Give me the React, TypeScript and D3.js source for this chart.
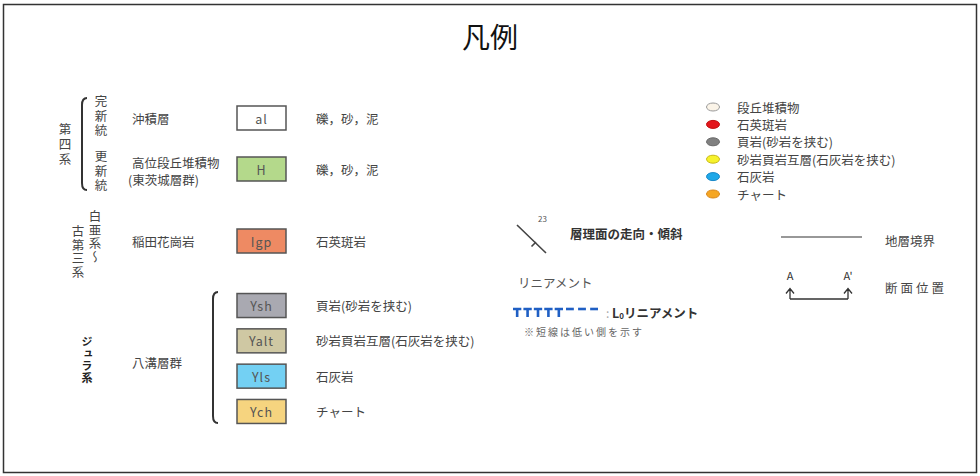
import * as d3 from "d3";

// font used for every label (Japanese text)
const FONT = '"Noto Sans CJK JP", "Noto Sans", sans-serif';

// geological units, top to bottom
const unitCodes = ["al", "H", "Igp", "Ysh", "Yalt", "Yls", "Ych"];
const unitRocks = [
  "礫，砂，泥",
  "礫，砂，泥",
  "石英斑岩",
  "頁岩(砂岩を挟む)",
  "砂岩頁岩互層(石灰岩を挟む)",
  "石灰岩",
  "チャート",
];
const unitColors = [
  "#ffffff",
  "#b4d98b",
  "#ee8a63",
  "#a9a9b1",
  "#cfc8a3",
  "#73d0f3",
  "#f6d47f",
];
const quaternaryCodes = ["al", "H"];
const jurassicCodes = ["Ysh", "Yalt", "Yls", "Ych"];

// map-symbol legend (ellipses on the right)
const dotLabels = [
  "段丘堆積物",
  "石英斑岩",
  "頁岩(砂岩を挟む)",
  "砂岩頁岩互層(石灰岩を挟む)",
  "石灰岩",
  "チャート",
];
const dotColors = ["#fbf4e8", "#e3161c", "#808080", "#f6f22c", "#1fa8e8", "#f5a623"];
const dotStrokes = ["#999999", "#c01010", "#6a6a6a", "#c8b81a", "#1a88c8", "#d8861a"];

const sectionLabels = ["A", "A'"];

export default function App() {
  const width = 980;
  const height = 476;

  // vertical placement of the unit rows
  const yQuat = d3.scalePoint<string>().domain(quaternaryCodes).range([118, 169]);
  const yJura = d3
    .scaleBand<string>()
    .domain(jurassicCodes)
    .range([293, 424])
    .paddingInner(0.29);
  const rowY = (code: string) => {
    if (quaternaryCodes.includes(code)) return yQuat(code)!;
    if (jurassicCodes.includes(code)) return yJura(code)! + yJura.bandwidth() / 2;
    return 241;
  };

  const boxX = 237;
  const boxW = 49;
  const boxH = 24;

  const yDot = d3.scalePoint<string>().domain(dotLabels).range([107, 194]);
  const xSection = d3.scalePoint<string>().domain(sectionLabels).range([790, 848]);

  // blue L0 lineament: five "T" ticks then three dashes
  const xTee = d3.scaleBand<number>().domain(d3.range(5)).range([513, 563]).paddingInner(0.2);
  const xDash = d3.scaleBand<number>().domain(d3.range(3)).range([566, 598]).paddingInner(0.35);

  const line = d3.line();

  const bracket = (x: number, y0: number, y1: number) =>
    `M${x + 5},${y0} Q${x},${y0} ${x},${y0 + 7} L${x},${y1 - 7} Q${x},${y1} ${x + 5},${y1}`;

  // vertical (tategaki) label, y0 is the top of the first glyph
  const vText = (
    label: string,
    x: number,
    y0: number,
    spacing: number,
    opts: { size?: number; weight?: number; fill?: string } = {},
  ) => (
    <text
      x={x}
      y={y0}
      style={{ writingMode: "vertical-rl" }}
      fontSize={opts.size ?? 12.5}
      fontWeight={opts.weight ?? 400}
      fill={opts.fill ?? "#444"}
      letterSpacing={spacing}
    >
      {label}
    </text>
  );

  return (
    <svg
      width={width}
      height={height}
      style={{ position: "absolute", left: 0, top: 0, background: "#fff" }}
      fontFamily={FONT}
    >
      <rect width={width} height={height} fill="#fff" />
      <rect x={3.5} y={4.5} width={973} height={468} fill="none" stroke="#333" strokeWidth={1.5} />

      <text x={490} y={36} textAnchor="middle" dominantBaseline="central" fontSize={28} fill="#111">
        凡例
      </text>

      {/* period labels on the left */}
      {vText("第四系", 65, 123, 2.5)}
      <path d={bracket(82, 98, 190)} fill="none" stroke="#333" strokeWidth={2} />
      {vText("完新統", 101, 95, 2)}
      {vText("更新統", 101, 150, 2)}
      {vText("白亜系〜", 95, 210, 1, { size: 12.5 })}
      {vText("古第三系", 78, 225, 1.2, { size: 12.5 })}
      {vText("ジュラ系", 87, 336, 1, { size: 11, weight: 700, fill: "#222" })}

      {/* formation names */}
      <g fontSize={12.5} fill="#444" dominantBaseline="central">
        <text x={132} y={rowY("al")}>沖積層</text>
        <text x={132} y={rowY("H") - 7}>高位段丘堆積物</text>
        <text x={128} y={rowY("H") + 10}>(東茨城層群)</text>
        <text x={132} y={rowY("Igp")}>稲田花崗岩</text>
        <text x={132} y={362}>八溝層群</text>
      </g>
      <path d={bracket(213, 292, 423)} fill="none" stroke="#333" strokeWidth={2} />

      {/* unit boxes and rock descriptions */}
      {unitCodes.map((code, i) => {
        const y = rowY(code);
        return (
          <g key={code}>
            <rect
              x={boxX}
              y={y - boxH / 2}
              width={boxW}
              height={boxH}
              fill={unitColors[i]}
              stroke="#555"
              strokeWidth={1.5}
            />
            <text
              x={boxX + boxW / 2}
              y={y}
              textAnchor="middle"
              dominantBaseline="central"
              fontSize={12.5}
              letterSpacing={1}
              fill="#555"
            >
              {code}
            </text>
            <text x={316} y={y} dominantBaseline="central" fontSize={12.5} fill="#444">
              {unitRocks[i]}
            </text>
          </g>
        );
      })}

      {/* strike and dip symbol */}
      <path
        d={
          line([
            [517, 225],
            [546, 253],
          ])! +
          line([
            [536, 242],
            [531.5, 246.5],
          ])!
        }
        stroke="#444"
        strokeWidth={1.6}
        fill="none"
      />
      <text x={538} y={218} fontSize={8} fill="#555" dominantBaseline="central">
        23
      </text>
      <text x={570} y={233} fontSize={12.5} fontWeight={700} fill="#333" dominantBaseline="central">
        層理面の走向・傾斜
      </text>

      <text x={518} y={282} fontSize={12.5} fill="#555" dominantBaseline="central">
        リニアメント
      </text>

      <g stroke="#1f5fc4" strokeWidth={2.6} fill="none">
        {d3.range(5).map((i) => {
          const x0 = xTee(i)!;
          const x1 = x0 + xTee.bandwidth();
          const xm = (x0 + x1) / 2;
          return <path key={i} d={`M${x0},${309} H${x1} M${xm},${309} V${317}`} />;
        })}
        {d3.range(3).map((i) => (
          <path key={"d" + i} d={`M${xDash(i)},${309} H${xDash(i)! + xDash.bandwidth()}`} />
        ))}
      </g>
      <text x={606} y={312} fontSize={12} fill="#aaa" dominantBaseline="central">
        :
      </text>
      <text x={612} y={312} fontSize={12.5} fontWeight={700} fill="#333" dominantBaseline="central">
        L
        <tspan fontSize={8} dy={3}>
          0
        </tspan>
        <tspan dy={-3}>リニアメント</tspan>
      </text>
      <text x={524} y={331} fontSize={10} fill="#666" letterSpacing={2} dominantBaseline="central">
        ※短線は低い側を示す
      </text>

      {/* ellipse legend */}
      {dotLabels.map((label, i) => (
        <g key={label}>
          <ellipse
            cx={713}
            cy={yDot(label)}
            rx={6.5}
            ry={4}
            fill={dotColors[i]}
            stroke={dotStrokes[i]}
            strokeWidth={1}
          />
          <text x={737} y={yDot(label)} fontSize={12.5} fill="#444" dominantBaseline="central">
            {label}
          </text>
        </g>
      ))}

      {/* geologic boundary */}
      <path d={line([[781, 237], [862, 237]])!} stroke="#333" strokeWidth={1.2} />
      <text x={885} y={240} fontSize={12.5} fill="#444" dominantBaseline="central">
        地層境界
      </text>

      {/* cross-section marker */}
      {sectionLabels.map((s) => (
        <text key={s} x={xSection(s)} y={275} textAnchor="middle" fontSize={11} fill="#333" dominantBaseline="central">
          {s}
        </text>
      ))}
      <path
        d={
          sectionLabels
            .map((s) => {
              const x = xSection(s)!;
              return `M${x},299 V289 M${x - 4},293.5 L${x},288.5 L${x + 4},293.5`;
            })
            .join(" ") + ` M${xSection("A")},299 H${xSection("A'")}`
        }
        fill="none"
        stroke="#333"
        strokeWidth={1.3}
      />
      <text x={885} y={287} fontSize={12.5} fill="#444" letterSpacing={3} dominantBaseline="central">
        断面位置
      </text>
    </svg>
  );
}
